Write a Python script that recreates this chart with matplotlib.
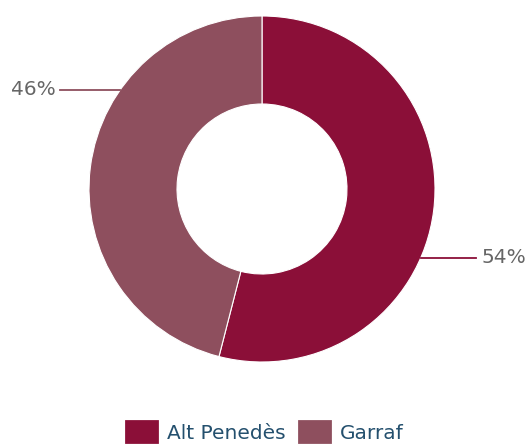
import matplotlib.pyplot as plt
import numpy as np
from matplotlib.patches import Patch

# dades
labels = ['Alt Penedès', 'Garraf']
values = [54, 46]
colors = ['#8b0f38', '#8e4f5e']
# angle (graus, horari des de dalt) on surt la línia de cada etiqueta
label_angles = [113.5, 305]

W, H = 530, 446
fig = plt.figure(figsize=(W / 100, H / 100), dpi=100)
ax = fig.add_axes([0, 0, 1, 1])

cx, cy = 262, H - 189
R, r_in = 173, 85

ax.pie(values, colors=colors, startangle=90, counterclock=False,
       center=(cx, cy), radius=R, frame=True,
       wedgeprops=dict(width=R - r_in, edgecolor='white', linewidth=0.8))
ax.set_xlim(0, W)
ax.set_ylim(0, H)
ax.set_aspect('equal')
ax.axis('off')

for v, col, a in zip(values, colors, label_angles):
    t = np.deg2rad(90 - a)
    x0, y0 = cx + R * np.cos(t), cy + R * np.sin(t)
    if x0 > cx:
        x1 = x0 + 55
        ax.plot([x0, x1], [y0, y0], color=col, lw=1.3)
        ax.text(x1 + 6, y0, f'{v}%', ha='left', va='center', fontsize=14.5, color='#666666')
    else:
        x1 = x0 - 60
        ax.plot([x0, x1], [y0, y0], color=col, lw=1.3)
        ax.text(x1 - 5, y0, f'{v}%', ha='right', va='center', fontsize=14.5, color='#666666')

handles = [Patch(facecolor=c, edgecolor=c, joinstyle='round', linewidth=2) for c in colors]
leg = fig.legend(handles, labels, loc='center', bbox_to_anchor=(0.5, 1 - 432 / H),
                 ncol=2, frameon=False, fontsize=14.5, handlelength=1.5, handleheight=1.2,
                 handletextpad=0.5, columnspacing=0.7)
for t in leg.get_texts():
    t.set_color('#24506e')

fig.savefig('out.png', dpi=100)
